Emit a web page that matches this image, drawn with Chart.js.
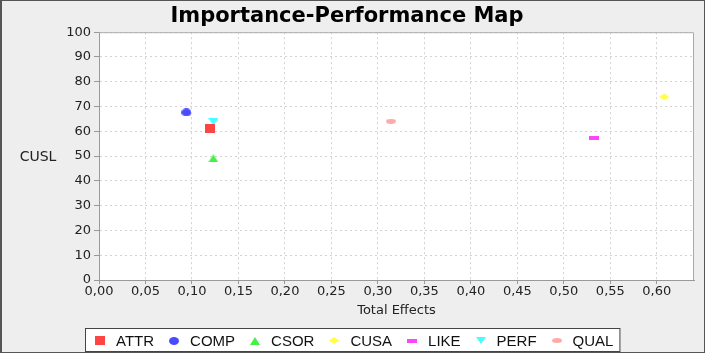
<!DOCTYPE html>
<html>
<head>
<meta charset="utf-8">
<script src="https://cdn.jsdelivr.net/npm/chart.js@4/dist/chart.umd.min.js"></script>
<style>
    html, body { margin: 0; padding: 0; background: #eeeeee; }
    canvas { display: block; }
</style>
</head>
<body>
<canvas id="ipmap" width="705" height="353"></canvas>
<script>
var constructs = ['ATTR', 'COMP', 'CSOR', 'CUSA', 'LIKE', 'PERF', 'QUAL'];
var totalEffects = [0.119, 0.094, 0.123, 0.608, 0.532, 0.123, 0.314];
var cuslPerformance = [61.0, 67.6, 49.1, 73.9, 57.5, 63.8, 64.1];
var shapes = ['square', 'circle', 'triangle', 'diamond', 'bar', 'triangleDown', 'oval'];
var seriesColors = ['#ff4444', '#4a4aff', '#44f044', '#ffff44', '#ff44ff', '#44ffff', '#ffaaaa'];

var axisGray = '#999999';
var gridGray = '#d2d2d2';
var textColor = '#222222';

function marker(shape, color) {
    var sizes = {
        square: [10, 9], circle: [10, 8], triangle: [10, 8], diamond: [10, 7],
        bar: [10, 4], triangleDown: [10, 7], oval: [10, 5]
    };
    var w = sizes[shape][0];
    var h = sizes[shape][1];
    var c = document.createElement('canvas');
    c.width = w;
    c.height = h;
    var g = c.getContext('2d');
    g.fillStyle = color;
    g.beginPath();
    if (shape === 'square' || shape === 'bar') {
        g.rect(0, 0, w, h);
    } else if (shape === 'circle' || shape === 'oval') {
        g.ellipse(w / 2, h / 2, w / 2, h / 2, 0, 0, Math.PI * 2);
    } else if (shape === 'triangle') {
        g.moveTo(w / 2, 0); g.lineTo(w, h); g.lineTo(0, h);
    } else if (shape === 'triangleDown') {
        g.moveTo(0, 0); g.lineTo(w, 0); g.lineTo(w / 2, h);
    } else if (shape === 'diamond') {
        g.moveTo(w / 2, 0); g.lineTo(w, h / 2); g.lineTo(w / 2, h); g.lineTo(0, h / 2);
    }
    g.closePath();
    g.fill();
    return c;
}

var markers = shapes.map(function (shape, i) { return marker(shape, seriesColors[i]); });

var decor = {
    id: 'decor',
    beforeDraw: function (chart) {
        var ctx = chart.ctx;
        var area = chart.chartArea;
        ctx.save();
        ctx.fillStyle = '#eeeeee';
        ctx.fillRect(0, 0, chart.width, chart.height);
        ctx.fillStyle = '#ffffff';
        ctx.fillRect(area.left, area.top, area.right - area.left, area.bottom - area.top);
        ctx.restore();
    },
    afterDraw: function (chart) {
        var ctx = chart.ctx;
        var area = chart.chartArea;
        ctx.save();

        // plot outline (top and right)
        ctx.strokeStyle = '#aaaaaa';
        ctx.lineWidth = 1;
        ctx.beginPath();
        ctx.moveTo(area.left, area.top + 0.5);
        ctx.lineTo(area.right - 0.5, area.top + 0.5);
        ctx.lineTo(area.right - 0.5, area.bottom);
        ctx.stroke();

        // axis titles
        ctx.fillStyle = textColor;
        ctx.font = '13px "DejaVu Sans"';
        ctx.textAlign = 'center';
        ctx.textBaseline = 'middle';
        ctx.fillText('Total Effects', (area.left + area.right) / 2, 311);
        ctx.font = '14px "DejaVu Sans"';
        ctx.fillText('CUSL', 38, 157);

        // legend
        ctx.font = '15px "Liberation Sans"';
        var widths = constructs.map(function (name) { return ctx.measureText(name).width; });
        var groupWidth = 0;
        widths.forEach(function (w, i) {
            groupWidth += 16 + w + (i < widths.length - 1 ? 20 : 0);
        });
        var boxWidth = groupWidth + 15 + 6;
        var boxLeft = Math.round((chart.width - boxWidth) / 2);
        var boxTop = 328;
        var boxBottom = 351;
        ctx.fillStyle = '#ffffff';
        ctx.fillRect(boxLeft, boxTop, boxWidth, boxBottom - boxTop);
        ctx.strokeStyle = '#444444';
        ctx.strokeRect(boxLeft + 0.5, boxTop + 0.5, boxWidth, boxBottom - boxTop);

        var cx = boxLeft + 15;
        var cy = (boxTop + boxBottom) / 2 + 1;
        ctx.textAlign = 'left';
        ctx.fillStyle = '#111111';
        constructs.forEach(function (name, i) {
            var m = markers[i];
            ctx.drawImage(m, Math.round(cx - m.width / 2), Math.round(cy - m.height / 2));
            ctx.fillText(name, cx + 16, cy + 1);
            cx += 16 + widths[i] + 20;
        });

        // outer frame
        ctx.strokeStyle = '#555555';
        ctx.lineWidth = 1;
        ctx.strokeRect(0.5, 0.5, chart.width - 1, chart.height - 1);
        ctx.fillStyle = '#555555';
        ctx.fillRect(0, 0, 2, chart.height);
        ctx.restore();
    }
};

new Chart(document.getElementById('ipmap'), {
    type: 'scatter',
    data: {
        datasets: constructs.map(function (name, i) {
            return {
                label: name,
                data: [{ x: totalEffects[i], y: cuslPerformance[i] }],
                pointStyle: markers[i],
                backgroundColor: seriesColors[i],
                borderColor: seriesColors[i],
                pointRadius: 5,
                pointHoverRadius: 5
            };
        })
    },
    options: {
        responsive: false,
        animation: false,
        layout: { padding: { left: 0, right: 11, top: 0, bottom: 0 } },
        plugins: {
            legend: { display: false },
            tooltip: { enabled: false },
            title: {
                display: true,
                text: 'Importance-Performance Map',
                color: '#000000',
                font: { family: 'DejaVu Sans', size: 21, weight: 'bold' },
                padding: { top: 4, bottom: 3 }
            }
        },
        scales: {
            x: {
                type: 'linear',
                min: 0,
                max: 0.64,
                afterFit: function (scale) { scale.height = 73; },
                ticks: {
                    stepSize: 0.05,
                    includeBounds: false,
                    color: textColor,
                    padding: 0,
                    font: { family: 'DejaVu Sans', size: 13 },
                    maxRotation: 0,
                    autoSkip: false,
                    callback: function (value) { return value.toFixed(2).replace('.', ','); }
                },
                grid: { color: gridGray, tickColor: axisGray, tickLength: 4 },
                border: { color: axisGray, dash: [2, 3] }
            },
            y: {
                min: 0,
                max: 100,
                afterFit: function (scale) { scale.width = 99; },
                ticks: {
                    stepSize: 10,
                    color: textColor,
                    padding: 3,
                    font: { family: 'DejaVu Sans', size: 13 }
                },
                grid: { color: gridGray, tickColor: axisGray, tickLength: 5 },
                border: { color: axisGray, dash: [2, 3] }
            }
        }
    },
    plugins: [decor]
});
</script>
</body>
</html>
